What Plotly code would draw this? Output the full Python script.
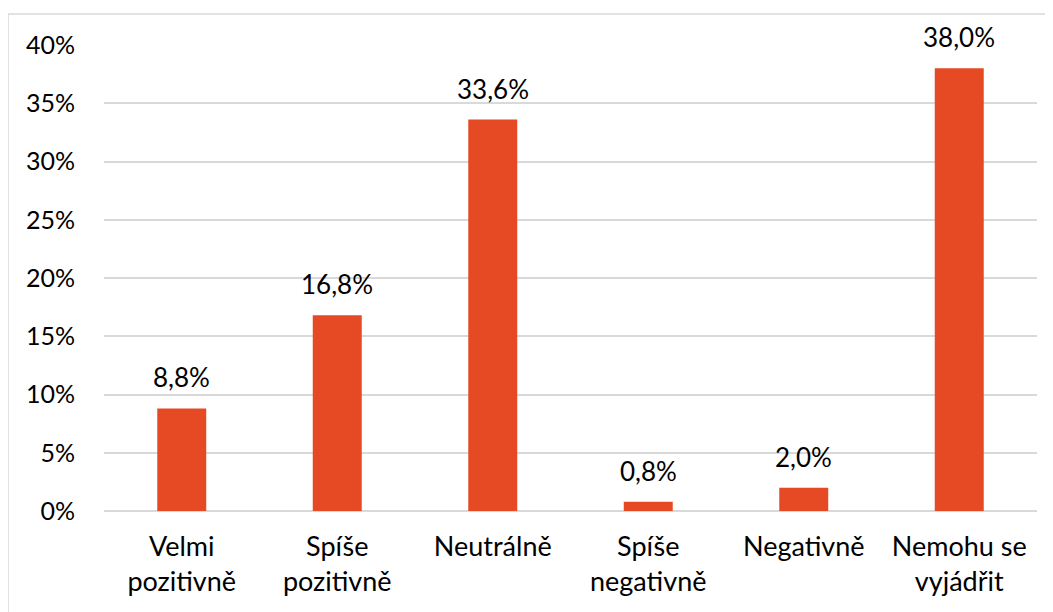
import plotly.graph_objects as go

categories = ["Velmi<br>pozitivně", "Spíše<br>pozitivně", "Neutrálně",
              "Spíše<br>negativně", "Negativně", "Nemohu se<br>vyjádřit"]
values = [8.8, 16.8, 33.6, 0.8, 2.0, 38.0]
labels = [f"{v:.1f}".replace(".", ",") + "%" for v in values]
y_ticks = [0, 5, 10, 15, 20, 25, 30, 35, 40]
y_ticktext = [f"{t}%" for t in y_ticks]

BAR = "#E64A25"
FONT = "Lato"
FS = 25

fig = go.Figure(go.Bar(
    x=categories, y=values,
    marker=dict(color=BAR, line=dict(width=0)), width=0.315,
))

for c, v, t in zip(categories, values, labels):
    fig.add_annotation(x=c, y=v, text=t, showarrow=False, yanchor="bottom",
                       yshift=13, font=dict(family=FONT, size=26, color="#000000"))

# page has an 8px body margin offset at top/left
OFF = 8
W, H = 1053 - OFF, 612 - OFF
L, R, T, B = 104 - OFF, 16, 45 - OFF, 101
pw, ph = W - L - R, H - T - B

fig.update_layout(
    width=W, height=H,
    margin=dict(l=L, r=R, t=T, b=B),
    paper_bgcolor="white", plot_bgcolor="white",
    font=dict(family=FONT, size=FS, color="#000000"),
    showlegend=False,
    xaxis=dict(showgrid=False, showline=False, ticks="", tickfont=dict(size=27),
               ticklabelstandoff=17),
    yaxis=dict(range=[0, 40], tickvals=y_ticks, ticktext=y_ticktext, showgrid=True,
               gridcolor="#D9D9D9", gridwidth=1.5, zeroline=True, zerolinecolor="#D9D9D9",
               zerolinewidth=1.5, showline=False, ticks="", ticklabelstandoff=28,
               tickfont=dict(size=FS)),
    shapes=[dict(type="rect", xref="paper", yref="paper",
                 x0=(8 - 104) / pw, x1=(1053 + 10 - 104) / pw,
                 y0=-(101 + 10) / ph, y1=(511 - 14) / ph,
                 line=dict(color="#D9D9D9", width=1.5), fillcolor="rgba(0,0,0,0)",
                 layer="below")],
)

fig.write_html("out.html")
